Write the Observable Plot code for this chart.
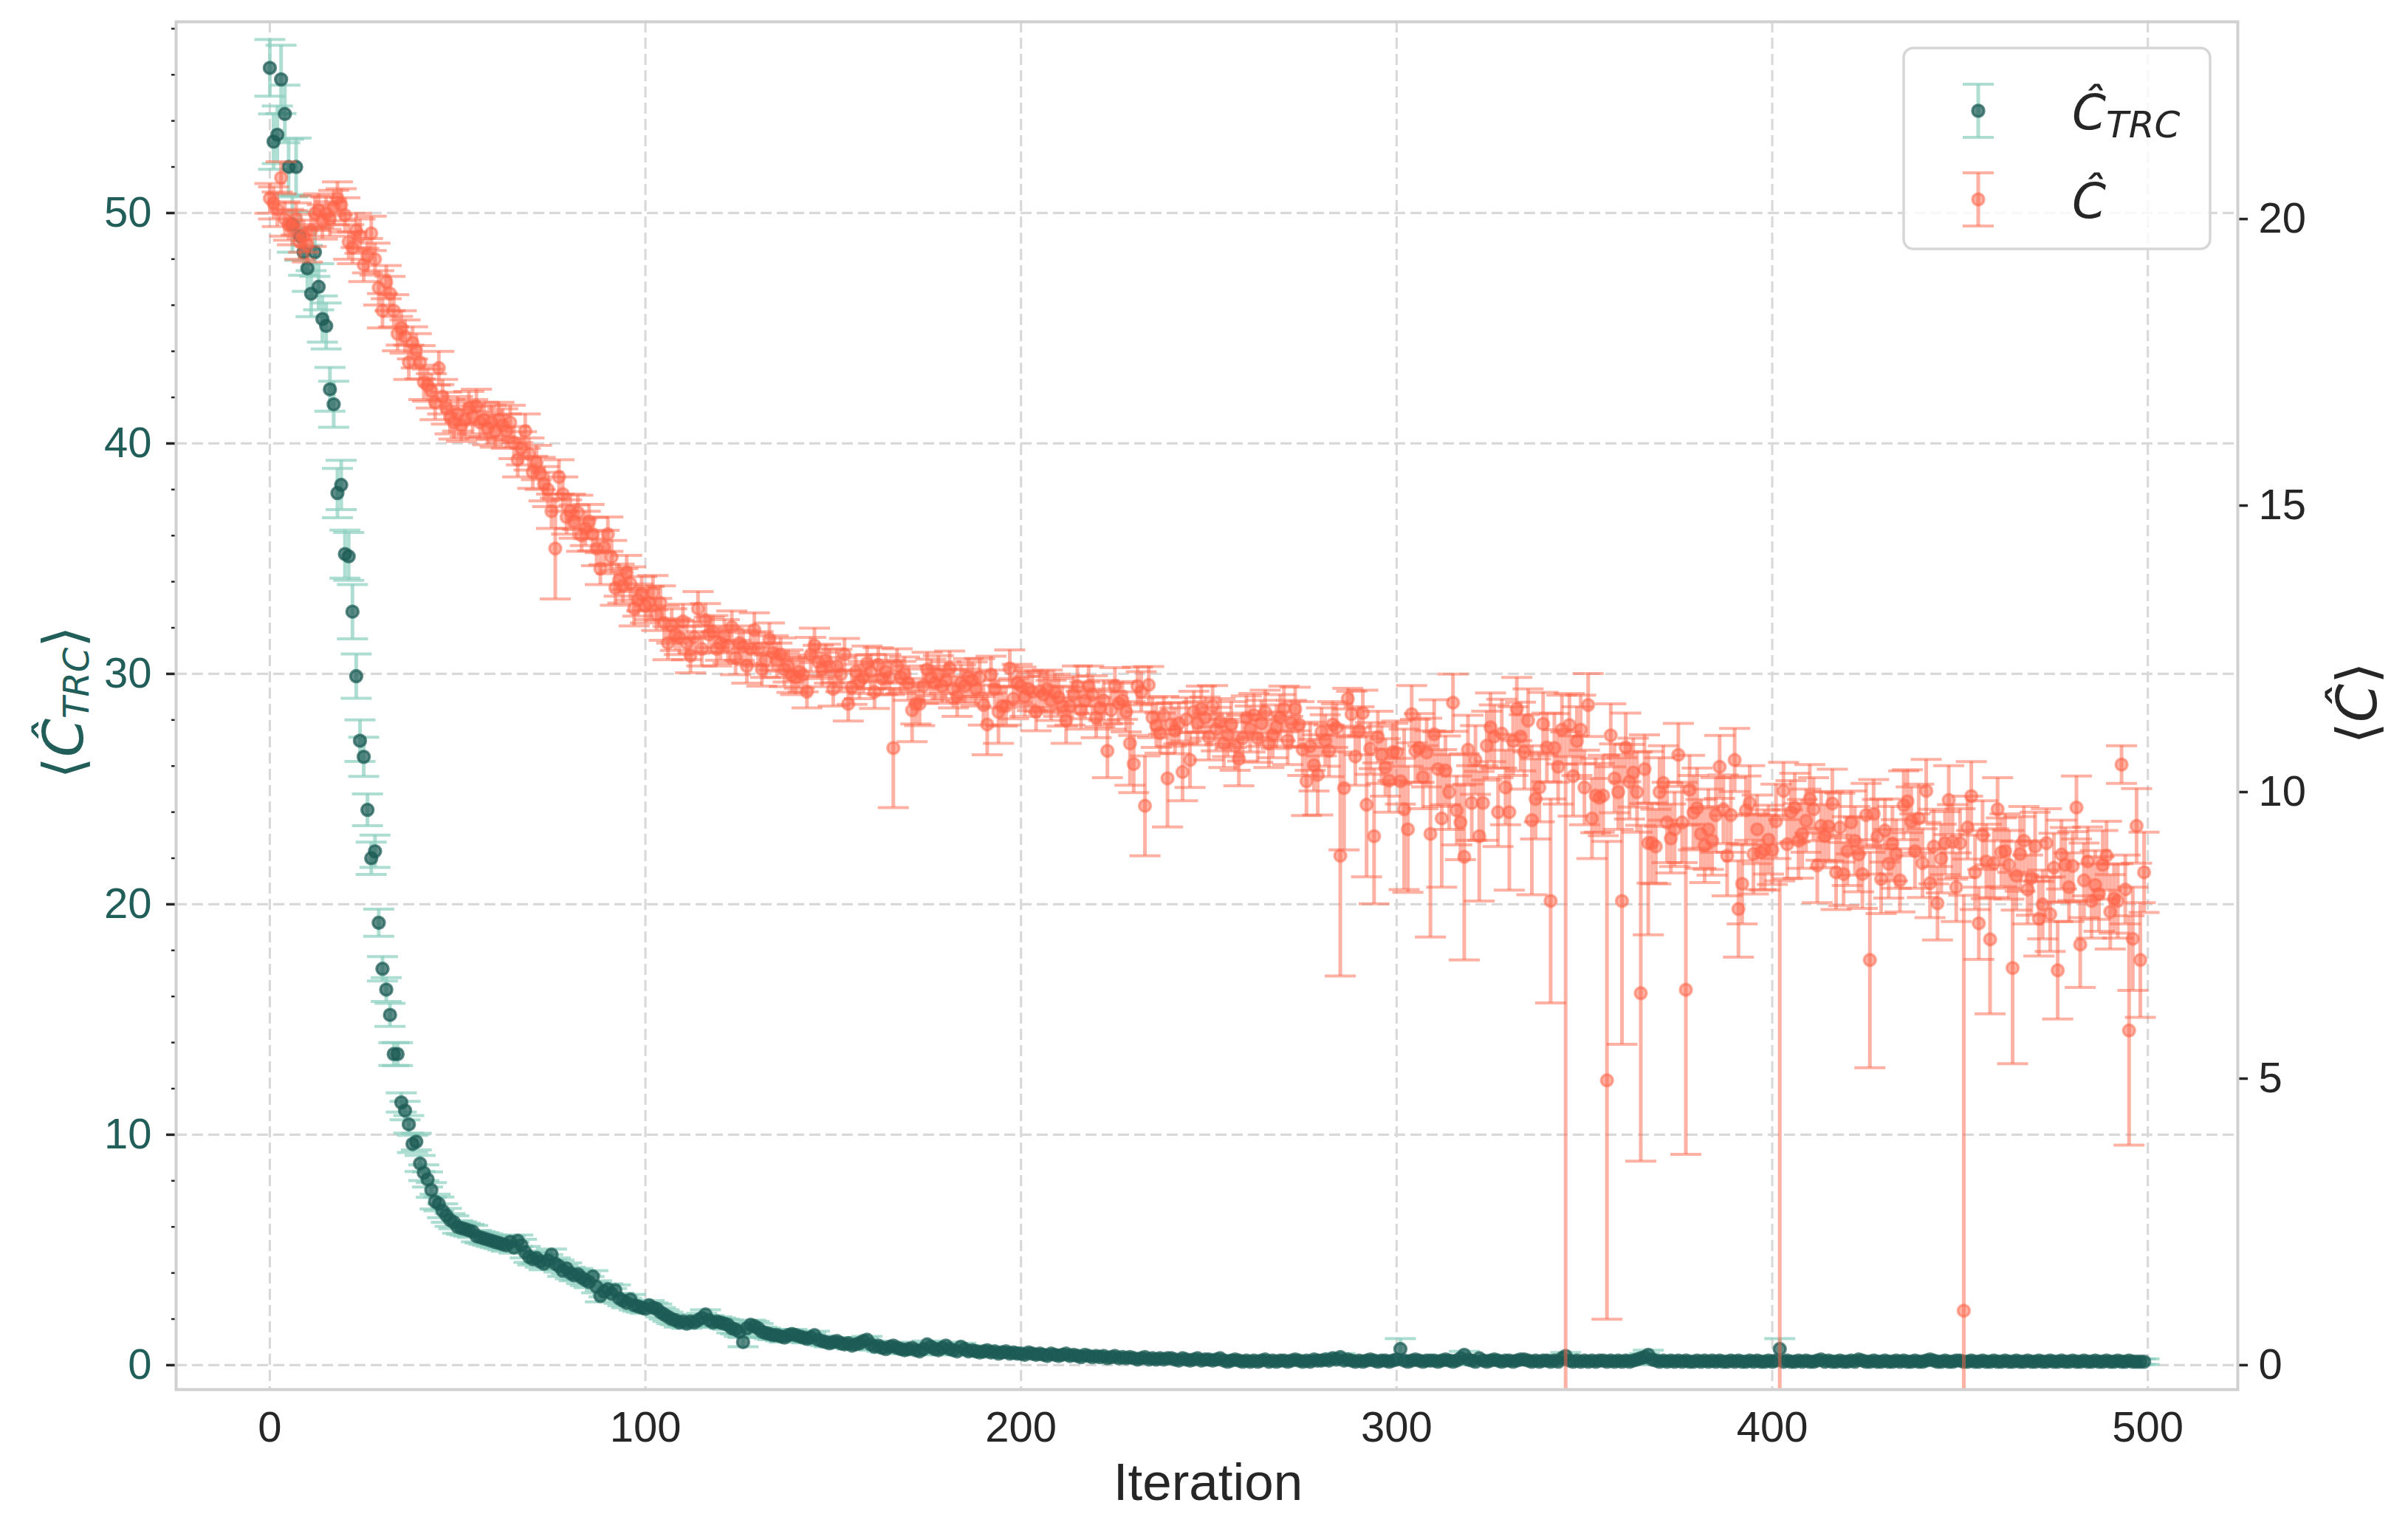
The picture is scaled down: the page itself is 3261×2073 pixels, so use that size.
<!DOCTYPE html>
<html><head><meta charset="utf-8">
<script src="https://cdn.jsdelivr.net/npm/d3@7"></script>
<script src="https://cdn.jsdelivr.net/npm/@observablehq/plot@0.6"></script>
<style>html,body{margin:0;padding:0;background:#fff;} #chart svg{display:block}</style>
</head><body><div id="chart"></div>
<script>
// ---- data (iteration = index) ----
const cTRC = [
56.3,53.1,53.4,55.8,54.3,52.0,49.5,52.0,49.0,48.3,
47.6,46.5,48.3,46.8,45.4,45.1,42.35,41.7,37.85,38.2,
35.2,35.1,32.7,29.9,27.1,26.4,24.1,22.0,22.3,19.2,
17.2,16.3,15.2,13.5,13.5,11.4,11.05,10.45,9.6,9.7,
8.75,8.35,8.06,7.6,7.1,7.0,6.7,6.5,6.3,6.2,
6.0,5.95,5.9,5.85,5.8,5.6,5.55,5.5,5.45,5.4,
5.35,5.3,5.25,5.2,5.35,5.1,5.4,5.2,4.9,4.7,
4.6,4.65,4.5,4.4,4.55,4.8,4.4,4.3,4.1,4.2,
4.0,3.9,3.95,3.8,3.7,3.6,3.85,3.4,3.0,3.2,
3.3,3.1,3.25,2.9,2.8,2.7,2.85,2.6,2.55,2.5,
2.45,2.6,2.5,2.45,2.3,2.2,2.1,2.0,1.95,1.85,
1.9,1.8,1.9,1.85,1.95,2.05,2.2,1.95,1.85,1.9,
1.85,1.8,1.75,1.6,1.55,1.45,1.0,1.6,1.75,1.7,
1.6,1.45,1.4,1.35,1.3,1.3,1.25,1.2,1.3,1.35,
1.3,1.25,1.2,1.15,1.2,1.3,1.1,1.05,1.0,0.95,
1.0,1.05,0.95,0.9,0.95,0.85,0.9,0.95,1.05,1.1,
0.9,0.8,0.85,0.75,0.7,0.8,0.85,0.75,0.7,0.65,
0.7,0.75,0.65,0.6,0.7,0.9,0.8,0.7,0.65,0.75,
0.85,0.7,0.65,0.6,0.8,0.7,0.6,0.65,0.6,0.55,
0.6,0.65,0.55,0.6,0.5,0.55,0.6,0.5,0.55,0.5,
0.5,0.45,0.55,0.5,0.45,0.5,0.45,0.4,0.5,0.45,
0.4,0.45,0.5,0.4,0.45,0.4,0.35,0.45,0.4,0.35,
0.4,0.35,0.4,0.3,0.35,0.4,0.3,0.35,0.3,0.35,
0.3,0.25,0.3,0.35,0.25,0.3,0.25,0.3,0.25,0.3,
0.3,0.25,0.2,0.3,0.25,0.2,0.25,0.3,0.2,0.25,
0.25,0.2,0.25,0.3,0.2,0.15,0.2,0.25,0.2,0.15,
0.2,0.15,0.2,0.15,0.2,0.25,0.15,0.2,0.15,0.2,
0.2,0.15,0.2,0.25,0.2,0.15,0.2,0.15,0.25,0.2,
0.2,0.25,0.2,0.3,0.25,0.35,0.2,0.25,0.2,0.15,
0.2,0.15,0.2,0.25,0.2,0.15,0.2,0.2,0.15,0.2,
0.25,0.7,0.2,0.15,0.2,0.25,0.2,0.15,0.2,0.2,
0.2,0.15,0.2,0.25,0.2,0.15,0.2,0.3,0.45,0.25,
0.2,0.15,0.3,0.2,0.15,0.2,0.25,0.2,0.15,0.2,
0.2,0.15,0.2,0.25,0.25,0.2,0.15,0.2,0.15,0.2,
0.2,0.15,0.2,0.15,0.3,0.4,0.2,0.15,0.2,0.15,
0.2,0.15,0.2,0.15,0.2,0.2,0.15,0.2,0.15,0.2,
0.15,0.2,0.15,0.2,0.25,0.3,0.35,0.45,0.25,0.2,
0.15,0.2,0.15,0.2,0.15,0.2,0.15,0.2,0.15,0.15,
0.2,0.15,0.2,0.15,0.2,0.15,0.2,0.15,0.15,0.2,
0.15,0.2,0.15,0.15,0.2,0.15,0.2,0.15,0.15,0.2,
0.15,0.2,0.7,0.15,0.2,0.15,0.15,0.2,0.15,0.2,
0.15,0.15,0.2,0.25,0.15,0.2,0.15,0.15,0.2,0.15,
0.15,0.2,0.15,0.25,0.2,0.15,0.15,0.2,0.15,0.15,
0.2,0.15,0.15,0.2,0.15,0.2,0.15,0.15,0.2,0.15,
0.15,0.2,0.25,0.2,0.15,0.15,0.2,0.15,0.15,0.2,
0.2,0.15,0.15,0.2,0.15,0.15,0.2,0.15,0.15,0.2,
0.15,0.15,0.2,0.15,0.15,0.2,0.15,0.15,0.2,0.15,
0.15,0.2,0.15,0.15,0.2,0.15,0.15,0.2,0.15,0.15,
0.2,0.15,0.15,0.2,0.15,0.15,0.2,0.15,0.15,0.2,
0.15,0.15,0.2,0.15,0.15,0.2,0.15,0.15,0.15,0.15];

const cTRCErr = [
1.23,1.2,1.25,1.48,1.25,1.2,1.2,1.25,1.05,1.0,
1.0,1.0,1.05,1.0,1.0,1.0,0.95,1.0,1.07,1.07,
1.04,1.04,1.18,0.96,0.9,0.85,0.69,0.7,0.7,0.59,
0.53,0.52,0.5,0.5,0.5,0.42,0.4,0.38,0.37,0.36,
0.35,0.34,0.33,0.32,0.32,0.3,0.3,0.3,0.28,0.28,
0.27,0.27,0.26,0.26,0.26,0.25,0.25,0.25,0.25,0.25,
0.25,0.24,0.25,0.26,0.25,0.24,0.25,0.26,0.25,0.24,
0.25,0.24,0.25,0.26,0.25,0.24,0.25,0.26,0.25,0.24,
0.25,0.24,0.25,0.26,0.25,0.24,0.25,0.26,0.25,0.24,
0.23,0.22,0.23,0.22,0.22,0.21,0.22,0.21,0.21,0.2,
0.2,0.2,0.2,0.2,0.2,0.2,0.2,0.2,0.2,0.2,
0.2,0.2,0.2,0.2,0.2,0.2,0.2,0.2,0.2,0.2,
0.2,0.2,0.2,0.2,0.2,0.2,0.2,0.2,0.2,0.2,
0.2,0.2,0.2,0.2,0.2,0.2,0.2,0.2,0.2,0.2,
0.18,0.18,0.18,0.18,0.18,0.17,0.17,0.17,0.16,0.16,
0.15,0.15,0.15,0.15,0.15,0.15,0.15,0.15,0.15,0.15,
0.15,0.15,0.15,0.15,0.15,0.15,0.15,0.15,0.15,0.15,
0.15,0.15,0.15,0.15,0.15,0.15,0.15,0.15,0.15,0.15,
0.15,0.15,0.15,0.15,0.15,0.15,0.15,0.15,0.15,0.15,
0.15,0.15,0.15,0.15,0.15,0.15,0.15,0.15,0.15,0.15,
0.14,0.14,0.14,0.14,0.14,0.14,0.14,0.14,0.14,0.14,
0.14,0.14,0.14,0.14,0.14,0.14,0.14,0.14,0.14,0.14,
0.13,0.13,0.13,0.13,0.13,0.13,0.13,0.13,0.13,0.13,
0.13,0.13,0.13,0.13,0.13,0.13,0.13,0.13,0.13,0.13,
0.13,0.13,0.13,0.13,0.13,0.13,0.13,0.13,0.13,0.13,
0.12,0.12,0.12,0.12,0.12,0.12,0.12,0.12,0.12,0.12,
0.12,0.12,0.12,0.12,0.12,0.12,0.12,0.12,0.12,0.12,
0.12,0.12,0.12,0.12,0.12,0.12,0.12,0.12,0.12,0.12,
0.12,0.12,0.12,0.12,0.12,0.15,0.12,0.12,0.12,0.12,
0.12,0.12,0.12,0.12,0.12,0.12,0.12,0.12,0.12,0.12,
0.12,0.45,0.12,0.12,0.12,0.12,0.12,0.12,0.12,0.12,
0.12,0.12,0.12,0.12,0.12,0.12,0.12,0.12,0.15,0.12,
0.12,0.12,0.12,0.12,0.12,0.12,0.12,0.12,0.12,0.12,
0.12,0.12,0.12,0.12,0.12,0.12,0.12,0.12,0.12,0.12,
0.12,0.12,0.12,0.12,0.12,0.15,0.12,0.12,0.12,0.12,
0.12,0.12,0.12,0.12,0.12,0.12,0.12,0.12,0.12,0.12,
0.12,0.12,0.12,0.12,0.12,0.12,0.15,0.2,0.12,0.12,
0.12,0.12,0.12,0.12,0.12,0.12,0.12,0.12,0.12,0.12,
0.12,0.12,0.12,0.12,0.12,0.12,0.12,0.12,0.12,0.12,
0.12,0.12,0.12,0.12,0.12,0.12,0.12,0.12,0.12,0.12,
0.12,0.12,0.45,0.12,0.12,0.12,0.12,0.12,0.12,0.12,
0.12,0.12,0.12,0.12,0.12,0.12,0.12,0.12,0.12,0.12,
0.12,0.12,0.12,0.12,0.12,0.12,0.12,0.12,0.12,0.12,
0.12,0.12,0.12,0.12,0.12,0.12,0.12,0.12,0.12,0.12,
0.12,0.12,0.12,0.12,0.12,0.12,0.12,0.12,0.12,0.12,
0.12,0.12,0.12,0.12,0.12,0.12,0.12,0.12,0.12,0.12,
0.12,0.12,0.12,0.12,0.12,0.12,0.12,0.12,0.12,0.12,
0.12,0.12,0.12,0.12,0.12,0.12,0.12,0.12,0.12,0.12,
0.12,0.12,0.12,0.12,0.12,0.12,0.12,0.12,0.12,0.12,
0.12,0.12,0.12,0.12,0.12,0.12,0.12,0.12,0.12,0.12];

const cHat = [
20.36,20.28,20.17,20.72,20.0,19.9,19.85,20.0,19.6,19.7,
19.55,19.8,20.1,20.15,19.95,20.1,20.0,20.2,20.36,20.25,
20.07,19.6,19.5,19.8,19.7,19.2,19.36,19.75,19.3,18.8,
18.4,18.9,18.7,18.4,18.0,18.1,17.95,17.5,17.84,17.7,
17.5,17.15,17.1,17.0,16.8,17.4,16.9,16.7,16.55,16.45,
16.6,16.4,16.5,16.7,16.55,16.73,16.45,16.5,16.35,16.45,
16.3,16.5,16.4,16.3,16.45,16.1,15.8,16.0,16.3,15.9,
15.58,15.75,15.56,15.38,15.28,14.9,14.25,15.5,15.2,14.8,
14.9,14.72,14.88,14.48,14.6,14.72,14.5,14.25,13.9,14.27,
14.5,14.1,13.56,13.7,13.6,13.83,13.64,13.2,13.35,13.46,
13.25,13.3,13.48,13.1,13.3,12.95,12.6,12.9,12.75,12.7,
12.98,12.6,12.38,12.7,13.2,12.5,13.0,12.75,12.8,12.5,
12.6,12.72,12.55,12.88,12.35,12.6,12.54,12.2,12.5,12.83,
12.5,12.14,12.3,12.67,12.43,12.3,12.4,12.14,12.2,12.04,
12.0,12.1,12.05,11.75,12.4,12.56,12.27,12.14,12.3,12.2,
11.8,12.2,12.05,12.4,11.54,11.83,12.1,11.93,12.0,12.25,
12.1,11.75,12.22,11.98,12.1,12.0,10.77,12.2,12.0,12.06,
11.9,11.43,11.54,11.54,11.85,12.14,12.0,11.9,12.05,11.85,
11.95,12.16,11.8,11.67,11.9,11.85,12.0,11.95,11.8,12.0,
11.52,11.18,12.05,11.8,11.4,11.5,11.5,12.16,11.63,11.9,
11.85,11.67,11.8,11.75,11.4,11.76,11.7,11.8,11.6,11.74,
11.65,11.5,11.25,11.5,11.7,11.85,11.43,11.6,11.85,11.7,
11.3,11.47,11.6,10.72,11.43,11.85,11.55,11.6,11.4,10.85,
10.49,11.85,11.75,9.76,11.87,11.3,11.16,11.03,11.34,10.24,
11.18,11.07,11.2,10.35,11.27,10.56,11.4,11.2,11.45,11.3,
10.96,11.5,11.1,11.23,10.85,11.0,11.18,10.8,10.58,10.94,
11.3,11.1,11.34,10.94,11.2,11.4,10.85,11.0,11.14,11.3,
11.45,10.9,11.2,11.45,11.18,10.74,10.19,10.8,10.47,10.3,
11.05,10.9,10.72,11.18,11.12,8.89,10.07,11.63,11.36,10.62,
11.07,11.38,9.78,10.76,9.23,10.96,10.65,10.43,10.2,10.7,
10.69,10.19,9.7,9.35,11.36,10.72,10.77,10.26,10.69,9.27,
11.01,10.4,9.54,10.38,10.0,11.56,9.68,9.47,8.87,10.74,
9.81,10.56,9.23,9.81,10.81,11.13,10.97,9.65,11.02,10.08,
9.65,10.89,11.45,10.97,10.7,11.25,9.51,9.88,10.08,11.19,
10.78,8.1,10.77,10.44,11.09,-1.0,11.17,10.28,10.89,11.09,
10.08,11.52,9.54,9.94,9.9,9.94,4.97,10.99,10.24,10.0,
8.1,10.78,10.18,10.34,10.0,6.49,10.4,9.11,9.11,9.05,
10.0,10.16,9.47,9.19,9.35,10.65,9.47,6.55,10.04,9.64,
9.72,9.27,9.07,9.35,9.15,9.6,10.44,9.7,8.89,9.6,
10.56,7.96,8.4,9.68,9.81,8.92,9.35,8.95,8.99,9.17,
8.99,9.49,-1.0,10.02,9.09,9.65,9.73,9.15,9.27,9.5,
9.88,9.7,8.72,9.41,9.23,9.4,9.8,8.6,9.38,8.57,
8.97,9.47,9.15,8.91,8.57,9.6,7.07,9.62,9.22,8.48,
9.33,8.75,9.1,8.92,8.46,9.77,9.84,9.49,8.97,9.54,
8.76,10.02,8.41,9.05,8.06,8.84,9.11,9.86,9.13,8.34,
9.11,0.95,9.38,9.93,8.6,7.71,9.25,8.79,7.43,8.76,
9.7,8.95,8.97,8.73,6.93,8.54,8.92,9.15,8.3,8.5,
9.05,7.79,8.04,9.11,7.87,8.68,6.89,8.91,8.73,8.34,
8.71,9.73,7.34,8.46,8.79,8.1,8.38,8.22,8.73,8.89,
7.91,8.14,8.1,10.48,8.3,5.84,7.44,9.41,7.07,8.6];

const cHatErr = [
0.26,0.28,0.3,0.28,0.3,0.27,0.3,0.28,0.3,0.28,
0.3,0.28,0.3,0.29,0.3,0.28,0.3,0.3,0.29,0.28,
0.3,0.3,0.28,0.3,0.3,0.29,0.3,0.3,0.28,0.3,
0.3,0.29,0.3,0.28,0.3,0.3,0.29,0.3,0.28,0.3,
0.29,0.3,0.28,0.3,0.3,0.29,0.3,0.28,0.3,0.29,
0.3,0.28,0.3,0.29,0.3,0.3,0.28,0.3,0.29,0.3,
0.28,0.3,0.29,0.3,0.3,0.28,0.3,0.29,0.3,0.28,
0.28,0.3,0.28,0.3,0.3,0.3,0.88,0.3,0.3,0.3,
0.3,0.29,0.3,0.28,0.3,0.3,0.29,0.3,0.28,0.3,
0.3,0.29,0.3,0.28,0.3,0.3,0.29,0.3,0.28,0.3,
0.3,0.29,0.3,0.28,0.3,0.3,0.29,0.3,0.28,0.3,
0.3,0.29,0.3,0.28,0.3,0.3,0.29,0.3,0.28,0.3,
0.3,0.29,0.3,0.28,0.3,0.3,0.29,0.3,0.28,0.3,
0.3,0.29,0.3,0.28,0.3,0.3,0.29,0.3,0.28,0.3,
0.3,0.29,0.3,0.28,0.3,0.3,0.29,0.3,0.28,0.3,
0.3,0.29,0.3,0.28,0.3,0.3,0.29,0.3,0.28,0.3,
0.3,0.29,0.3,0.28,0.3,0.3,1.04,0.3,0.28,0.3,
0.3,0.55,0.35,0.38,0.3,0.3,0.32,0.3,0.33,0.3,
0.32,0.3,0.33,0.35,0.32,0.3,0.33,0.32,0.3,0.33,
0.35,0.53,0.32,0.33,0.55,0.35,0.33,0.32,0.35,0.33,
0.33,0.35,0.32,0.33,0.33,0.35,0.32,0.33,0.35,0.32,
0.33,0.35,0.4,0.33,0.32,0.35,0.33,0.32,0.35,0.33,
0.35,0.33,0.35,0.47,0.33,0.32,0.35,0.33,0.35,0.73,
0.5,0.33,0.35,0.87,0.32,0.35,0.38,0.35,0.33,0.85,
0.38,0.4,0.36,0.5,0.38,0.48,0.36,0.38,0.4,0.36,
0.4,0.36,0.38,0.4,0.42,0.38,0.4,0.42,0.47,0.4,
0.38,0.4,0.38,0.42,0.4,0.38,0.42,0.4,0.38,0.4,
0.4,0.42,0.4,0.38,0.4,0.45,0.6,0.42,0.45,0.7,
0.42,0.45,0.45,0.4,0.42,2.1,1.08,0.18,0.4,0.5,
0.42,0.4,1.26,0.45,1.18,0.45,0.5,0.5,0.55,0.5,
0.55,0.4,1.4,1.1,0.5,0.55,0.6,0.55,0.6,1.8,
0.6,0.65,1.2,0.6,0.65,0.5,0.6,0.65,1.8,0.6,
0.65,0.6,1.13,0.65,0.6,0.6,0.55,0.6,0.6,0.65,
1.36,0.6,0.55,0.6,0.65,0.55,1.3,0.7,0.6,0.55,
0.6,1.78,0.6,0.65,0.6,12.05,0.55,0.7,0.6,0.6,
0.65,0.55,0.7,0.65,0.6,0.7,4.17,0.55,0.6,0.65,
2.5,0.6,0.65,0.6,0.7,2.93,0.6,1.6,0.7,0.65,
0.6,0.65,0.7,0.6,0.65,0.55,0.7,2.87,0.6,0.65,
0.7,0.6,0.65,0.7,0.6,0.65,0.55,0.6,0.7,0.65,
0.55,0.84,0.7,0.6,0.65,0.7,0.6,0.65,0.7,0.6,
0.6,0.65,9.45,0.5,0.6,0.55,0.6,0.65,0.6,0.55,
0.6,0.55,0.65,0.6,0.55,0.6,0.6,0.65,0.6,0.55,
0.6,0.55,0.6,0.65,0.6,0.55,1.88,0.6,0.65,0.6,
0.55,0.6,0.65,0.6,0.55,0.6,0.55,0.6,0.65,0.6,
0.6,0.55,0.6,0.65,0.64,0.6,0.55,0.6,0.65,0.6,
0.6,7.25,0.55,0.6,0.65,0.63,0.6,0.65,1.3,0.6,
0.55,0.6,0.65,0.6,1.67,0.6,0.65,0.6,0.6,0.65,
0.6,0.65,0.6,0.6,0.65,0.6,0.85,0.6,0.65,0.6,
0.6,0.55,0.75,0.65,0.6,0.65,0.6,0.65,0.6,0.6,
0.65,0.6,0.65,0.33,0.6,2.0,0.9,0.65,1.0,0.7];

const xTicks = [0, 100, 200, 300, 400, 500];
const leftTicks = [0, 10, 20, 30, 40, 50];
const leftMinorTicks = [2,4,6,8,12,14,16,18,22,24,26,28,32,34,36,38,42,44,46,48,52,54,56,58];
const rightTicks = [0, 5, 10, 15, 20];
const xLabel = "Iteration";
const seriesNames = ["TRC", ""];

// ---- scale settings ----
const W = 3261, H = 2073;
const K = 2.487; // right-axis unit expressed in left-axis units
const teal = "#1d5b56", tealErr = "#8ccfbf", salmon = "#ff6347";
const tealText = "#215d59", ink = "#262626";

const rowsT = cTRC.map((v, i) => ({x: i, y: v, lo: v - cTRCErr[i], hi: v + cTRCErr[i]}));
const rowsC = cHat.map((v, i) => ({x: i, y: v * K, lo: (v - cHatErr[i]) * K, hi: (v + cHatErr[i]) * K}));

const capSymbol = {draw(ctx, size) { const r = Math.sqrt(size / Math.PI); ctx.moveTo(-r, 0); ctx.lineTo(r, 0); }};

function errorMarks(rows, barColor, barAlpha, dotColor, dotAlpha) {
  return [
    Plot.ruleX(rows, {x: "x", y1: "lo", y2: "hi", stroke: barColor, strokeOpacity: barAlpha, strokeWidth: 5, clip: true}),
    Plot.dot(rows, {x: "x", y: "lo", symbol: capSymbol, r: 21, fill: "none", stroke: barColor, strokeOpacity: barAlpha, strokeWidth: 4, clip: true}),
    Plot.dot(rows, {x: "x", y: "hi", symbol: capSymbol, r: 21, fill: "none", stroke: barColor, strokeOpacity: barAlpha, strokeWidth: 4, clip: true}),
    Plot.dot(rows, {x: "x", y: "y", r: 8, fill: dotColor, fillOpacity: dotAlpha, stroke: dotColor, strokeOpacity: dotAlpha, strokeWidth: 3.5, clip: true})
  ];
}

const chart = Plot.plot({
  width: W, height: H,
  marginLeft: 238, marginRight: 231, marginTop: 29, marginBottom: 192,
  x: {domain: [-24.95, 523.95], label: null},
  y: {domain: [-1.06, 58.3], label: null},
  style: {background: "white", fontFamily: "'Liberation Sans', Arial, sans-serif"},
  marks: [
    Plot.gridX(xTicks, {stroke: "#d9d9d9", strokeOpacity: 1, strokeWidth: 3.2, strokeDasharray: "15,7"}),
    Plot.gridY(leftTicks, {stroke: "#d9d9d9", strokeOpacity: 1, strokeWidth: 3.2, strokeDasharray: "15,7"}),
    Plot.axisX(xTicks, {tickSize: 0, tickPadding: 29, fontSize: 58, fill: ink, label: null}),
    Plot.axisY(leftTicks, {anchor: "left", tickSize: 13, tickPadding: 20, strokeWidth: 3.5, stroke: ink, fill: tealText, fontSize: 58, label: null}),
    Plot.axisY(leftMinorTicks, {anchor: "left", tickSize: 6, strokeWidth: 2.5, stroke: ink, text: null, label: null}),
    Plot.axisY(rightTicks.map(v => v * K), {anchor: "right", tickSize: 13, tickPadding: 15, strokeWidth: 3.5, stroke: ink, fill: ink, fontSize: 58, label: null,
      tickFormat: d => String(Math.round(d / K))}),
    ...errorMarks(rowsT, tealErr, 0.7, teal, 0.7),
    ...errorMarks(rowsC, salmon, 0.5, salmon, 0.5),
    Plot.frame({stroke: "#d0d0d0", strokeWidth: 4})
  ]
});
document.getElementById("chart").appendChild(chart);

// ---- labels and legend (non-data decorations) ----
const svg = d3.select(chart);
svg.append("text").attr("x", 1636).attr("y", 2031).attr("text-anchor", "middle")
  .attr("font-family", "'Liberation Sans', Arial, sans-serif").attr("font-size", 71).attr("fill", ink).text(xLabel);

function mathLabel(x, y, size, sub, color) {
  const t = svg.append("text").attr("transform", `translate(${x},${y}) rotate(-90)`)
    .attr("text-anchor", "middle").attr("font-family", "'DejaVu Sans', sans-serif")
    .attr("font-size", size).attr("fill", color);
  t.append("tspan").text("\u27E8");
  t.append("tspan").attr("font-style", "italic").text("\u0108");
  if (sub) {
    t.append("tspan").attr("font-style", "italic").attr("font-size", size * 0.64).attr("dy", size * 0.11).text(sub);
    t.append("tspan").attr("dy", -size * 0.11).text("\u27E9");
  } else {
    t.append("tspan").text("\u27E9");
  }
}
mathLabel(112, 951, 75, seriesNames[0], tealText);
mathLabel(3218, 952, 75, seriesNames[1], ink);

// legend
const lg = svg.append("g");
lg.append("rect").attr("x", 2578).attr("y", 65).attr("width", 415).attr("height", 272).attr("rx", 13)
  .attr("fill", "white").attr("fill-opacity", 0.8).attr("stroke", "#d6d6d6").attr("stroke-width", 3.5);
function legendEntry(cy, barColor, barAlpha, dotColor, dotAlpha, sub) {
  const cx = 2679;
  lg.append("line").attr("x1", cx).attr("x2", cx).attr("y1", cy - 36).attr("y2", cy + 36)
    .attr("stroke", barColor).attr("stroke-opacity", barAlpha).attr("stroke-width", 5);
  for (const yy of [cy - 36, cy + 36]) {
    lg.append("line").attr("x1", cx - 21).attr("x2", cx + 21).attr("y1", yy).attr("y2", yy)
      .attr("stroke", barColor).attr("stroke-opacity", barAlpha).attr("stroke-width", 4);
  }
  lg.append("circle").attr("cx", cx).attr("cy", cy).attr("r", 8)
    .attr("fill", dotColor).attr("fill-opacity", dotAlpha).attr("stroke", dotColor).attr("stroke-opacity", dotAlpha).attr("stroke-width", 3.5);
  const t = lg.append("text").attr("x", 2806).attr("y", cy + 25).attr("text-anchor", "start")
    .attr("font-family", "'DejaVu Sans', sans-serif").attr("font-size", 66).attr("fill", ink);
  t.append("tspan").attr("font-style", "italic").text("\u0108");
  if (sub) t.append("tspan").attr("font-style", "italic").attr("font-size", 50).attr("dy", 11).text(sub);
}
legendEntry(150, tealErr, 0.7, teal, 0.7, seriesNames[0]);
legendEntry(270, salmon, 0.5, salmon, 0.5, seriesNames[1]);
</script>
</body></html>
